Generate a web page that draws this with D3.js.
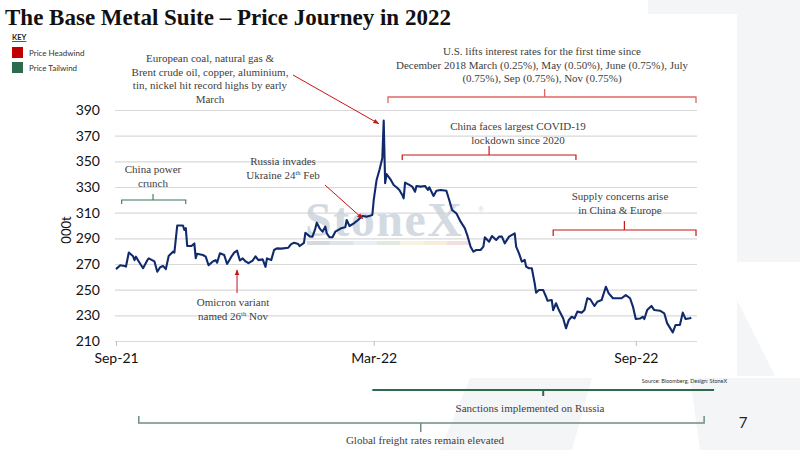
<!DOCTYPE html>
<html>
<head>
<meta charset="utf-8">
<script src="https://cdn.jsdelivr.net/npm/d3@7"></script>
<style>
  body { margin: 0; background: #fff; }
  svg { display: block; }
</style>
</head>
<body>
<div id="chart"></div>
<script>
// price series (000t)
const dates = [
  "2021-09-01","2021-09-04","2021-09-07","2021-09-08","2021-09-10","2021-09-13","2021-09-14","2021-09-15","2021-09-17","2021-09-20",
  "2021-09-23","2021-09-24","2021-09-28","2021-09-30","2021-10-02","2021-10-04","2021-10-06","2021-10-08","2021-10-11","2021-10-12",
  "2021-10-14","2021-10-18","2021-10-19","2021-10-20","2021-10-21","2021-10-24","2021-10-26","2021-10-27","2021-10-28","2021-11-01",
  "2021-11-03","2021-11-05","2021-11-08","2021-11-10","2021-11-11","2021-11-13","2021-11-16","2021-11-18","2021-11-21","2021-11-23",
  "2021-11-25","2021-11-27","2021-11-29","2021-12-01","2021-12-03","2021-12-06","2021-12-08","2021-12-10","2021-12-13","2021-12-15",
  "2021-12-16","2021-12-19","2021-12-21","2021-12-23","2021-12-26","2021-12-31","2022-01-02","2022-01-04","2022-01-07","2022-01-08",
  "2022-01-11","2022-01-12","2022-01-15","2022-01-17","2022-01-19","2022-01-20","2022-01-22","2022-01-24","2022-01-26","2022-01-27",
  "2022-01-29","2022-01-31","2022-02-02","2022-02-06","2022-02-09","2022-02-10","2022-02-12","2022-02-15","2022-02-18","2022-02-21",
  "2022-02-24","2022-02-28","2022-03-01","2022-03-03","2022-03-05","2022-03-07","2022-03-08","2022-03-09","2022-03-10","2022-03-13",
  "2022-03-15","2022-03-17","2022-03-19","2022-03-21","2022-03-22","2022-03-23","2022-03-26","2022-03-28","2022-03-30","2022-03-31",
  "2022-04-03","2022-04-06","2022-04-08","2022-04-09","2022-04-12","2022-04-14","2022-04-17","2022-04-21","2022-04-23","2022-04-25",
  "2022-04-28","2022-05-01","2022-05-04","2022-05-06","2022-05-08","2022-05-10","2022-05-12","2022-05-15","2022-05-17","2022-05-18",
  "2022-05-21","2022-05-23","2022-05-26","2022-05-28","2022-05-30","2022-06-01","2022-06-04","2022-06-08","2022-06-09","2022-06-11",
  "2022-06-13","2022-06-15","2022-06-16","2022-06-18","2022-06-20","2022-06-22","2022-06-23","2022-06-25","2022-06-28","2022-06-30",
  "2022-07-01","2022-07-04","2022-07-05","2022-07-07","2022-07-09","2022-07-12","2022-07-14","2022-07-16","2022-07-18","2022-07-20",
  "2022-07-22","2022-07-25","2022-07-27","2022-07-29","2022-07-31","2022-08-03","2022-08-05","2022-08-08","2022-08-11","2022-08-13",
  "2022-08-16","2022-08-19","2022-08-22","2022-08-25","2022-08-28","2022-08-30","2022-09-01","2022-09-04","2022-09-06","2022-09-07",
  "2022-09-09","2022-09-12","2022-09-14","2022-09-18","2022-09-21","2022-09-23","2022-09-27","2022-09-29","2022-10-02","2022-10-04",
  "2022-10-06","2022-10-09","2022-10-10"
];
const prices = [
  266,269,268.5,268,279,276,273,275.7,272,266.7,
  273,274.4,272,264,267.5,268.5,266,276.2,279.6,278.8,
  300,300,296.5,298,284,284,286,274.5,278,277,
  275.7,269,272,273,271,278.4,277,270,275.7,278.8,
  280.4,272.7,274.4,272,270.6,272.7,276,273,273.6,267.8,
  274.4,273,280.9,282.2,282,282.7,285.5,286.5,285.5,284,
  286.5,294.4,291.5,291.3,297.8,302.2,297.8,295.2,299.1,293.9,
  290.8,290.8,295.2,297.8,298.6,304.3,299.6,301.7,304.3,307.4,
  306.9,308.2,319.9,335.5,343.2,352.4,381.7,333,340.1,335.5,
  331.6,329.8,327.7,323.8,321.2,333.4,331.6,330.3,326.3,330.8,
  330.3,330.8,327.7,329.8,323,327.1,327.7,327.1,319.9,312.1,
  309.5,303,297.8,291.3,283.5,279.6,280.9,280.9,283.5,290.8,
  287.4,291.8,288.7,291.3,291.3,286.1,291.3,293.9,283.5,278.3,
  271.9,273.2,268,266.7,266.7,255,247.7,249.7,249.7,244.5,
  241.4,241.9,234.1,239.4,234.1,227.7,219.9,226.4,228.9,227.7,
  232.9,232.1,234.1,243.3,242.5,237.3,240.6,241.9,252.3,247.1,
  243.3,243.3,243.3,245.8,243.3,236.8,227.1,227.5,228.9,227.1,
  234.1,237.3,234.1,233.6,231.6,223.9,216.7,222.5,222.5,232.1,
  227.1,227.7,228.2
];

// axis ticks
const yTicks = [210,230,250,270,290,310,330,350,370,390];
const xTickDates = ["2021-09-01","2022-03-01","2022-09-01"];
const xTickLabels = ["Sep-21","Mar-22","Sep-22"];

const width = 800;
const height = 450;
const gridLeft = 115;
const gridRight = 697;
const serif = "'Liberation Serif', 'DejaVu Serif', serif";
const sans = "Lato, 'Open Sans', sans-serif";
const annColor = "#404040";
const red = "#c81414";
const green = "#2e6b4e";

const parse = d3.timeParse("%Y-%m-%d");
const data = dates.map((d,i)=>({date: parse(d), value: prices[i]}));

const x = d3.scaleTime()
    .domain([parse("2021-09-01"), parse("2022-10-14")])
    .range([116, gridRight]);
const y = d3.scaleLinear().domain([210,390]).range([341,110]);

const svg = d3.select("#chart").append("svg")
    .attr("width", width)
    .attr("height", height);

// faint logo shapes in the background
const bg = svg.append("g").attr("fill", "#f4f5f7");
bg.append("rect").attr("x",737).attr("y",0).attr("width",63).attr("height",262);
bg.append("path").attr("d","M737,300 L775,376 L737,376 Z");
bg.append("path").attr("d","M470,378 L592,378 L572,450 L440,450 Z");
bg.append("path").attr("d","M690,378 L800,378 L800,450 L700,450 Z");
bg.append("path").attr("d","M648,0 L737,0 L737,14 L648,14 Z");

// title
svg.append("text")
    .attr("x",5).attr("y",25)
    .attr("font-family", serif)
    .attr("font-weight",700)
    .attr("font-size",23)
    .attr("fill","#111")
    .text("The Base Metal Suite \u2013 Price Journey in 2022");

// key
svg.append("text").attr("x",12).attr("y",40)
    .attr("font-family", sans).attr("font-weight",700).attr("font-size",7.5)
    .attr("text-decoration","underline").attr("fill","#222").text("KEY");
const keyItems = [{label:"Price Headwind", color:"#c00000"},{label:"Price Tailwind", color:green}];
keyItems.forEach((k,i)=>{
    svg.append("rect").attr("x",12).attr("y",47+i*15).attr("width",11).attr("height",11).attr("fill",k.color);
    svg.append("text").attr("x",29).attr("y",55.5+i*15)
        .attr("font-family", sans).attr("font-size",8).attr("fill","#333").text(k.label);
});

// gridlines + y labels
const yAxis = svg.append("g")
    .attr("transform",`translate(${gridLeft},0)`)
    .call(d3.axisLeft(y).tickValues(yTicks).tickSize(-(gridRight-gridLeft)).tickPadding(15));
yAxis.select(".domain").remove();
yAxis.selectAll(".tick line").attr("stroke","#d9d9d9").attr("stroke-width",1.2);
yAxis.selectAll(".tick text").attr("font-family", sans).attr("font-size",14).attr("fill","#111");

// x axis
const xAxis = svg.append("g")
    .attr("transform",`translate(0,${y(210)})`)
    .call(d3.axisBottom(x).tickValues(xTickDates.map(parse)).tickSize(5).tickPadding(7)
        .tickFormat((d,i)=>xTickLabels[i]));
xAxis.select(".domain").remove();
xAxis.selectAll(".tick line").attr("stroke","#bfbfbf");
xAxis.selectAll(".tick text").attr("font-family", sans).attr("font-size",14).attr("fill","#111");

// y axis title
svg.append("text")
    .attr("transform","translate(66,230) rotate(-90)")
    .attr("text-anchor","middle").attr("dy","0.35em")
    .attr("font-family", sans).attr("font-size",13).attr("fill","#111")
    .text("000t");

// watermark
const wm = svg.append("g").attr("opacity",0.75);
wm.append("text").attr("x",305).attr("y",236)
    .attr("font-family", serif).attr("font-weight",700).attr("font-size",48)
    .attr("letter-spacing",1.5).attr("fill","#c5ced8").text("StoneX");
wm.append("text").attr("x",478).attr("y",212)
    .attr("font-family", sans).attr("font-size",7).attr("fill","#c5ced8").text("\u00ae");
const bandColors = ["#c9ced5","#d2dae3","#dfe9f2","#d7e3d8","#f4efd6","#f6e8cc","#efd5d5"];
bandColors.forEach((c,i)=>{
    wm.append("rect").attr("x",307+i*23.3).attr("y",241).attr("width",23.3).attr("height",4).attr("fill",c);
});

// price line
const line = d3.line().x(d=>x(d.date)).y(d=>y(d.value));
svg.append("path")
    .datum(data)
    .attr("fill","none")
    .attr("stroke","#102a6c")
    .attr("stroke-width",2.1)
    .attr("stroke-linejoin","round")
    .attr("d", line);

// annotation helpers
const drawBracket = (x0, x1, xm, yl, endDy, tickDy, color, sw) =>{
    svg.append("path")
        .attr("d", `M${x0},${yl+endDy} L${x0},${yl} L${x1},${yl} L${x1},${yl+endDy} M${xm},${yl} L${xm},${yl+tickDy}`)
        .attr("fill","none").attr("stroke",color).attr("stroke-width",sw);
};
const drawLabel = (cx, baseline, lines, size=11) =>{
    lines.forEach((l,i)=>{
        const t = svg.append("text").attr("x",cx).attr("y",baseline+i*13.6)
            .attr("text-anchor","middle").attr("font-family", serif)
            .attr("font-size",size).attr("fill",annColor);
        if (Array.isArray(l)) {
            t.append("tspan").text(l[0]);
            t.append("tspan").attr("font-size",size*0.6).attr("dy",-4).text(l[1]);
            t.append("tspan").attr("dy",4).text(l[2]);
        } else t.text(l);
    });
};

svg.append("defs").append("marker")
    .attr("id","arrow").attr("viewBox","0 0 10 10").attr("refX",9).attr("refY",5)
    .attr("markerWidth",6).attr("markerHeight",6).attr("orient","auto-start-reverse")
    .append("path").attr("d","M0,1 L10,5 L0,9 Z").attr("fill",red);
const drawArrow = (x0,y0,x1,y1) =>{
    svg.append("line").attr("x1",x0).attr("y1",y0).attr("x2",x1).attr("y2",y1)
        .attr("stroke",red).attr("stroke-width",1).attr("marker-end","url(#arrow)");
};

// european energy spike
drawLabel(210, 62, ["European coal, natural gas &","Brent crude oil, copper, aluminium,","tin, nickel hit record highs by early","March"]);
drawArrow(293, 75, x(parse("2022-03-08"))-5, y(381.7)+3);

// us rates
drawLabel(542, 55, ["U.S. lifts interest rates for the first time since","December 2018 March (0.25%), May (0.50%), June (0.75%), July","(0.75%), Sep (0.75%), Nov (0.75%)"]);
drawBracket(x(parse("2022-03-11")), gridRight-1, x(parse("2022-06-29")), 97, 6, -8, "#e06666", 1.3);

// china lockdown
drawLabel(518, 130, ["China faces largest COVID-19","lockdown since 2020"]);
drawBracket(x(parse("2022-03-21")), x(parse("2022-07-21")), x(parse("2022-05-21")), 155, 5, -9, red, 1.2);

// supply concerns
drawLabel(620, 200, ["Supply concerns arise","in China & Europe"]);
drawBracket(x(parse("2022-07-05")), gridRight-1, x(parse("2022-08-24")), 230, 6, -9, red, 1.2);

// china power crunch
drawLabel(153, 173, ["China power","crunch"]);
drawBracket(x(parse("2021-09-05")), x(parse("2021-10-20")), x(parse("2021-09-27")), 200, 4, -6, "#3a7657", 1.1);

// russia invades
drawLabel(283, 165, ["Russia invades",["Ukraine 24","th"," Feb"]]);
drawArrow(325, 185, x(parse("2022-02-24"))-4, y(306.9)+2);

// omicron
drawLabel(233, 306, ["Omicron variant",["named 26","th"," Nov"]]);
drawArrow(x(parse("2021-11-25")), 293, x(parse("2021-11-25")), 270);

// sanctions
svg.append("path")
    .attr("d", `M${x(parse("2022-02-28"))},390 L${x(parse("2022-10-26"))},390 M${x(parse("2022-06-28"))},390 L${x(parse("2022-06-28"))},396`)
    .attr("stroke",green).attr("stroke-width",2).attr("fill","none");
drawLabel(530, 412, ["Sanctions implemented on Russia"]);

// freight
drawBracket(x(parse("2021-09-17")), x(parse("2022-10-19")), x(parse("2022-04-03")), 423, -7, 9, "#6e8f80", 1.5);
drawLabel(425, 444, ["Global freight rates remain elevated"]);

// source and page number
svg.append("text").attr("x",727).attr("y",383).attr("text-anchor","end")
    .attr("font-family", sans).attr("font-size",5.5).attr("fill","#333")
    .text("Source: Bloomberg, Design: StoneX");
svg.append("text").attr("x",743).attr("y",428).attr("text-anchor","middle")
    .attr("font-family", sans).attr("font-size",15).attr("fill","#222").text("7");
</script>
</body>
</html>
